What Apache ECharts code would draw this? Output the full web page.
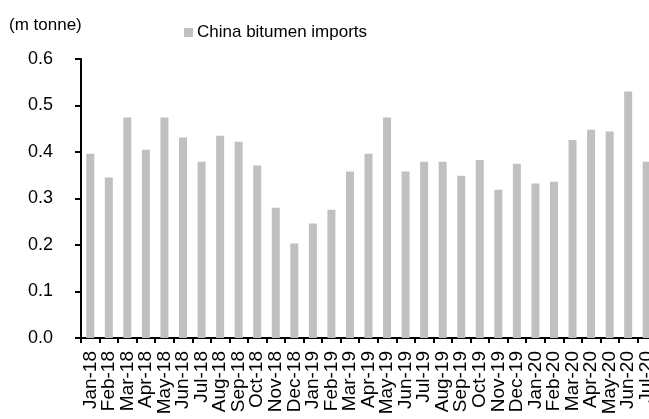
<!DOCTYPE html>
<html>
<head>
<meta charset="utf-8">
<script src="https://cdn.jsdelivr.net/npm/echarts@6/dist/echarts.min.js"></script>
<style>
  html, body { margin: 0; padding: 0; background: #fff; }
  #chart { width: 649px; height: 419px; }
</style>
</head>
<body>
<div id="chart"></div>
<script>
// Monthly China bitumen imports, million tonnes
const months = [
  'Jan-18','Feb-18','Mar-18','Apr-18','May-18','Jun-18','Jul-18','Aug-18','Sep-18','Oct-18','Nov-18','Dec-18',
  'Jan-19','Feb-19','Mar-19','Apr-19','May-19','Jun-19','Jul-19','Aug-19','Sep-19','Oct-19','Nov-19','Dec-19',
  'Jan-20','Feb-20','Mar-20','Apr-20','May-20','Jun-20','Jul-20'
];
const imports = [
  0.396, 0.345, 0.474, 0.405, 0.474, 0.431, 0.379, 0.435, 0.422, 0.371, 0.280, 0.203,
  0.246, 0.276, 0.358, 0.396, 0.474, 0.358, 0.379, 0.379, 0.349, 0.383, 0.319, 0.375,
  0.332, 0.336, 0.426, 0.448, 0.444, 0.530, 0.379
];
const yTicks = [0, 0.1, 0.2, 0.3, 0.4, 0.5, 0.6];

const font = 'Liberation Sans, Arial, sans-serif';
const chart = echarts.init(document.getElementById('chart'), null, { renderer: 'canvas' });
chart.setOption({
  animation: false,
  backgroundColor: '#ffffff',
  textStyle: { fontFamily: font },
  title: {
    text: '(m tonne)',
    left: 4,
    top: 12,
    textStyle: { fontFamily: font, fontSize: 17, fontWeight: 'normal', color: '#000' }
  },
  legend: {
    data: ['China bitumen imports'],
    left: 179,
    top: 19,
    icon: 'rect',
    itemWidth: 9,
    itemHeight: 9,
    itemGap: 4,
    textStyle: { fontFamily: font, fontSize: 17, color: '#000', padding: [0, 0, 0, -1] }
  },
  grid: { left: 81, right: -7, top: 59, bottom: 81, containLabel: false, outerBoundsMode: 'none' },
  xAxis: {
    type: 'category',
    data: months,
    boundaryGap: true,
    axisLine: { lineStyle: { color: '#000', width: 2 } },
    axisTick: { show: true, length: 5, interval: 0, lineStyle: { color: '#000', width: 2 } },
    axisLabel: {
      interval: 0,
      rotate: 90,
      margin: 13,
      fontFamily: font,
      fontSize: 19,
      color: '#000',
      hideOverlap: false
    },
    splitLine: { show: false }
  },
  yAxis: {
    type: 'value',
    min: yTicks[0],
    max: yTicks[yTicks.length - 1],
    interval: 0.1,
    axisLine: { show: true, lineStyle: { color: '#000', width: 2 } },
    axisTick: { show: true, inside: false, length: 6, lineStyle: { color: '#000', width: 2 } },
    axisLabel: {
      margin: 28,
      fontFamily: font,
      fontSize: 18,
      color: '#000',
      formatter: v => v.toFixed(1)
    },
    splitLine: { show: false }
  },
  series: [{
    name: 'China bitumen imports',
    type: 'bar',
    data: imports,
    barWidth: 8,
    itemStyle: { color: '#c0c0c0' }
  }]
});
</script>
</body>
</html>
